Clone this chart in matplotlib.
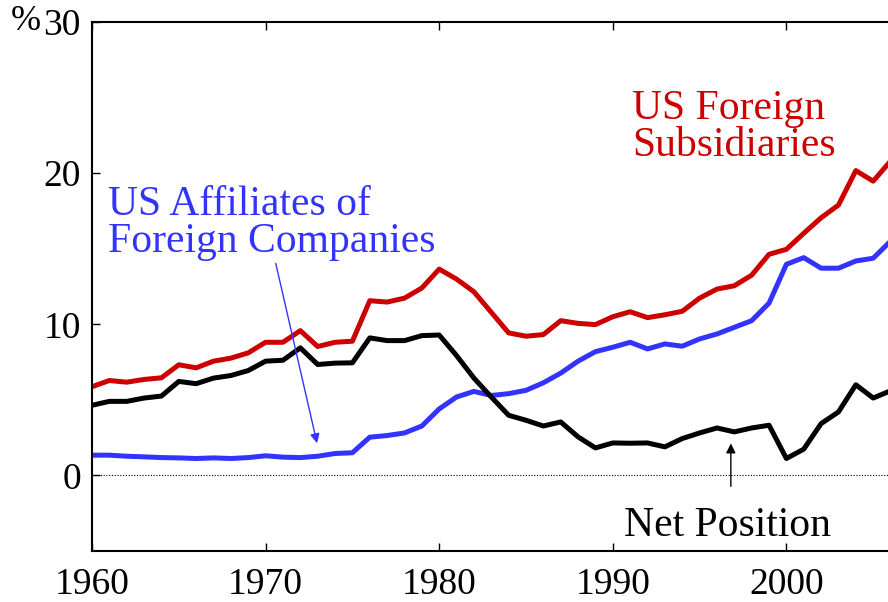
import numpy as np
import matplotlib.pyplot as plt

plt.rcParams['font.family'] = ['Liberation Serif', 'DejaVu Serif']

years = list(range(1960, 2007))

subsidiaries = [5.87, 6.28, 6.17, 6.35, 6.46, 7.32, 7.12, 7.56, 7.76, 8.11,
                8.81, 8.81, 9.58, 8.53, 8.81, 8.88, 11.56, 11.47, 11.73, 12.40,
                13.65, 12.99, 12.15, 10.79, 9.43, 9.21, 9.32, 10.24, 10.06, 9.98,
                10.50, 10.83, 10.44, 10.63, 10.86, 11.73, 12.33, 12.55, 13.25, 14.63,
                14.96, 16.02, 17.05, 17.89, 20.17, 19.47, 20.80]

affiliates = [1.34, 1.34, 1.27, 1.23, 1.18, 1.16, 1.12, 1.16, 1.12, 1.18,
              1.30, 1.21, 1.18, 1.27, 1.45, 1.50, 2.53, 2.64, 2.81, 3.27,
              4.40, 5.19, 5.56, 5.29, 5.41, 5.63, 6.13, 6.77, 7.56, 8.19,
              8.48, 8.81, 8.37, 8.70, 8.55, 9.03, 9.36, 9.80, 10.24, 11.40,
              13.97, 14.41, 13.71, 13.71, 14.19, 14.37, 15.50]

net_position = [4.64, 4.90, 4.90, 5.12, 5.25, 6.22, 6.07, 6.44, 6.61, 6.94,
                7.56, 7.62, 8.44, 7.34, 7.43, 7.45, 9.10, 8.92, 8.92, 9.25,
                9.29, 7.93, 6.44, 5.19, 3.98, 3.65, 3.27, 3.54, 2.55, 1.82,
                2.15, 2.13, 2.15, 1.89, 2.44, 2.81, 3.14, 2.88, 3.14, 3.32,
                1.12, 1.74, 3.43, 4.20, 6.00, 5.12, 5.60]

red = '#cc0000'
blue = '#3333ff'

fig = plt.figure(figsize=(8.88, 6.02), dpi=100)
ax = fig.add_axes([92 / 888, 51 / 602, 868 / 888, 529 / 602])

ax.axhline(0, color='black', lw=0.8, ls=(0, (1, 1.5)))
ax.plot(years, subsidiaries, color=red, lw=3.6)
ax.plot(years, affiliates, color=blue, lw=3.6)
ax.plot(years, net_position, color='black', lw=3.6)

ax.set_xlim(1960, 2010)
ax.set_ylim(-5, 30)
ax.set_xticks([1960, 1970, 1980, 1990, 2000])
ax.set_yticks([0, 10, 20, 30])
ax.tick_params(direction='in', length=6, width=1, labelsize=27, top=True, right=False, pad=8)
ax.tick_params(axis='x', pad=12)
for s in ax.spines.values():
    s.set_linewidth(1.5)

fig.text(26 / 888, 1 - 22 / 602, '%', fontsize=26, ha='center', va='center')

ax.text(1960.95, 19.2, 'US Affiliates of\nForeign Companies', color=blue,
        fontsize=30, ha='left', va='top', linespacing=0.95)
ax.annotate('', xy=(1973.0, 1.95), xytext=(1970.55, 14.2),
            arrowprops=dict(arrowstyle='-|>', color=blue, lw=1, mutation_scale=14))

ax.text(1991.1, 25.55, 'US Foreign\nSubsidiaries', color=red,
        fontsize=30, ha='left', va='top', linespacing=0.95)

ax.text(1996.6, -3.3, 'Net Position', color='black', fontsize=30,
        ha='center', va='center')
ax.annotate('', xy=(1996.8, 2.3), xytext=(1996.8, -0.9),
            arrowprops=dict(arrowstyle='-|>', color='black', lw=1, mutation_scale=14))

fig.savefig('out.png', dpi=100)
